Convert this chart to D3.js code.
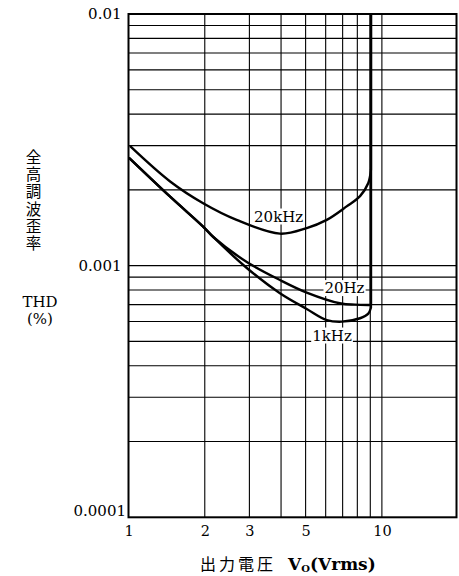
<!DOCTYPE html>
<html><head><meta charset="utf-8">
<script src="https://cdn.jsdelivr.net/npm/d3@7"></script>
<style>body{margin:0;background:#fff}svg{display:block}</style>
</head><body>
<svg id="c" width="459" height="576"></svg>
<script>
// ---- data ----
const xTickValues = [1, 2, 3, 5, 10];
const xTickLabels = ["1", "2", "3", "5", "10"];
const xGridValues = [2, 3, 4, 5, 6, 7, 8, 9, 10];
const yTickValues = [0.01, 0.001, 0.0001];
const yTickLabels = ["0.01", "0.001", "0.0001"];
const yGridValues = [0.0002, 0.0003, 0.0004, 0.0005, 0.0006, 0.0007, 0.0008, 0.0009, 0.001,
                     0.002, 0.003, 0.004, 0.005, 0.006, 0.007, 0.008, 0.009];

const seriesNames = ["20kHz", "20Hz", "1kHz"];
const vo20k  = [1.02, 1.46, 1.97, 2.67, 3.96, 5.05, 6.06, 7.26, 8.2, 8.84, 9.05, 9.05];
const thd20k = [0.00297, 0.00216, 0.00177, 0.00152, 0.00134, 0.00141, 0.00152, 0.00172, 0.00189, 0.00213, 0.00240, 0.01];
const vo20   = [1.01, 1.46, 1.97, 2.16, 2.93, 3.96, 5.05, 6.9, 7.83, 8.9, 9.05, 9.05];
const thd20  = [0.00267, 0.00188, 0.00143, 0.0013, 0.001034, 0.000877, 0.000782, 0.000707, 0.0007, 0.000698, 0.000698, 0.01];
const vo1k   = [1.01, 1.46, 1.97, 2.16, 2.93, 3.96, 5.05, 6.06, 6.94, 8.2, 8.84, 9.05, 9.05];
const thd1k  = [0.00267, 0.00188, 0.00143, 0.0013, 0.000979, 0.000777, 0.000673, 0.000608, 0.000599, 0.000618, 0.000645, 0.00068, 0.01];

// label anchors (in data units)
const labelVo  = [3.914, 7.12, 6.355];
const labelThd = [0.0014976, 0.000778, 0.000504];

// ---- layout ----
const L = 128.5, R = 456.5, T = 14, B = 517.3;
const svg = d3.select("#c");
const x = d3.scaleLog().domain([1, 19.7]).range([L, R]);
const y = d3.scaleLog().domain([0.0001, 0.01]).range([B, T]);
const serif = "'DejaVu Serif', serif";

// grid
svg.append("g").selectAll("line").data(xGridValues).join("line")
  .attr("x1", d => x(d)).attr("x2", d => x(d)).attr("y1", T).attr("y2", B)
  .attr("stroke", "#000").attr("stroke-width", 1.1);
svg.append("g").selectAll("line").data(yGridValues).join("line")
  .attr("y1", d => y(d)).attr("y2", d => y(d)).attr("x1", L).attr("x2", R)
  .attr("stroke", "#000").attr("stroke-width", 1.1);

// frame
svg.append("rect").attr("x", L).attr("y", T).attr("width", R - L).attr("height", B - T)
  .attr("fill", "none").attr("stroke", "#000").attr("stroke-width", 2);

// curves
const series = [[vo20k, thd20k], [vo20, thd20], [vo1k, thd1k]];
const smooth = d3.line().x(d => x(d[0])).y(d => y(d[1])).curve(d3.curveCatmullRom.alpha(0.5));
const straight = d3.line().x(d => x(d[0])).y(d => y(d[1]));
const gC = svg.append("g");
series.forEach(([xs, ys]) => {
  const pts = xs.map((v, i) => [v, ys[i]]);
  const n = pts.length;
  gC.append("path").attr("d", smooth(pts.slice(0, n - 1)))
    .attr("fill", "none").attr("stroke", "#000").attr("stroke-width", 2.4)
    .attr("stroke-linejoin", "round").attr("stroke-linecap", "round");
  gC.append("path").attr("d", straight(pts.slice(n - 2)))
    .attr("fill", "none").attr("stroke", "#000").attr("stroke-width", 2.4);
});

// series labels with white boxes
seriesNames.forEach((name, i) => {
  const g = svg.append("g");
  const t = g.append("text").attr("x", x(labelVo[i])).attr("y", y(labelThd[i]))
    .attr("text-anchor", "middle").attr("font-family", serif).attr("font-size", 15)
    .text(name);
  const bb = t.node().getBBox();
  g.insert("rect", "text").attr("x", bb.x - 1).attr("y", bb.y + 1)
    .attr("width", bb.width + 2).attr("height", bb.height - 2).attr("fill", "#fff");
});

// x axis labels
const xAxis = d3.axisBottom(x).tickValues(xTickValues).tickSize(0).tickPadding(0)
  .tickFormat((d, i) => xTickLabels[i]);
const gx = svg.append("g").attr("transform", `translate(0,${B})`).call(xAxis);
gx.select(".domain").remove();
gx.selectAll("text").attr("font-family", serif).attr("font-size", 14.5)
  .attr("fill", "#000").attr("dy", null).attr("y", 18.5);

// y axis labels
const yAxis = d3.axisLeft(y).tickValues(yTickValues).tickSize(0).tickPadding(7)
  .tickFormat((d, i) => yTickLabels[i]);
const gy = svg.append("g").attr("transform", `translate(${L},0)`).call(yAxis);
gy.select(".domain").remove();
gy.selectAll("text").attr("font-family", serif).attr("font-size", 15).attr("fill", "#000");
gy.selectAll(".tick").filter(d => d === 0.0001).select("text")
  .attr("dy", "0.32em").attr("y", -7).attr("x", -2.5);

// left vertical title (vertical writing)
svg.append("text").attr("x", 33.5).attr("y", 149)
  .attr("font-family", "'Noto Sans CJK JP'").attr("font-size", 15.5)
  .attr("fill", "#000").style("writing-mode", "vertical-rl")
  .attr("letter-spacing", 1.8).text("全高調波歪率");

// THD (%)
svg.append("text").attr("x", 40).attr("y", 306.5).attr("text-anchor", "middle")
  .attr("font-family", serif).attr("font-size", 15).attr("fill", "#000").text("THD");
svg.append("text").attr("x", 40).attr("y", 324).attr("text-anchor", "middle")
  .attr("font-family", serif).attr("font-size", 15).attr("fill", "#000").text("(%)");

// x axis title
const tt = svg.append("text").attr("x", 200).attr("y", 569.5).attr("fill", "#000");
tt.append("tspan").attr("font-family", "'Noto Sans CJK JP'").attr("font-size", 16)
  .attr("letter-spacing", 3).text("出力電圧");
tt.append("tspan").attr("font-family", serif).attr("font-weight", "bold").attr("font-size", 17)
  .attr("dx", 12).text("V");
tt.append("tspan").attr("font-family", serif).attr("font-weight", "bold").attr("font-size", 10)
  .attr("dy", 2.5).text("O");
tt.append("tspan").attr("font-family", serif).attr("font-weight", "bold").attr("font-size", 17)
  .attr("dy", -2.5).text("(Vrms)");
</script>
</body></html>
